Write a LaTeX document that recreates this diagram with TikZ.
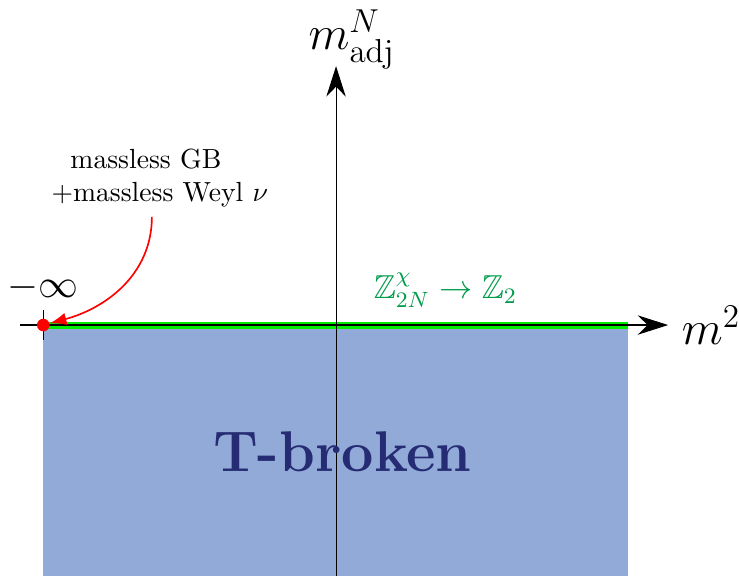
\documentclass[tikz,border=0pt]{standalone}
\definecolor{phaseblue}{RGB}{145, 170, 216}
\definecolor{symgreen}{RGB}{0, 155, 75}
\definecolor{linegreen}{RGB}{0, 235, 0}
\definecolor{phasetext}{RGB}{38, 44, 115}
\usepackage{tikz}
\usetikzlibrary{arrows.meta, positioning}
\usepackage{amsmath, amssymb}

\begin{document}
\begin{tikzpicture}[
  axis/.style={thin, -{Stealth[length=11pt, width=7pt]}},
  axlabel/.style={font=\LARGE},
  note/.style={align=center, font=\normalsize}
]
  \useasboundingbox (-4.27, -3.19) rectangle (5.12, 4.13);
  % phase region and symmetry line
  \fill[phaseblue] (-3.72, -3.19) rectangle (3.71, 0);
  \draw[linegreen, line width=2.5pt] (-3.72, 0) -- (3.71, 0);
  % axes
  \coordinate (xstart) at (-4.01, 0);
  \coordinate (xend) at (4.22, 0);
  \coordinate (ystart) at (0, -3.19);
  \coordinate (yend) at (0, 3.29);
  \draw[axis] (xstart) -- (xend);
  \draw[axis] (ystart) -- (yend);
  \draw[thin] (-3.72, 0.19) -- (-3.72, -0.19);
  \node[circle, fill=red, inner sep=0pt, minimum size=0.16cm] (minf) at (-3.72, 0) {};
  \node[axlabel, right=0.05cm of xend] (xlabel) {$m^2$};
  \node[axlabel] (ylabel) at (0.2, 3.63) {$m_{\mathrm{adj}}^N$};
  \node[font=\Large] (minflabel) at (-3.72, 0.48) {$-\infty$};
  \node[font=\large, text=symgreen] (sym) at (1.39, 0.44) {$\mathbb{Z}_{2N}^{\chi}\to\mathbb{Z}_2$};
  \node[font=\huge\bfseries, text=phasetext] (phase) at (0.08, -1.61) {T-broken};
  % massless point
  \node[note] (note) at (-2.24, 1.87) {massless GB\hspace*{10pt}\\+massless Weyl $\nu$};
  \draw[red, line width=0.6pt, -{Latex[length=6pt, width=4.5pt]}] ([xshift=-0.1cm]note.south) to[out=-90, in=15] (minf);
\end{tikzpicture}
\end{document}
